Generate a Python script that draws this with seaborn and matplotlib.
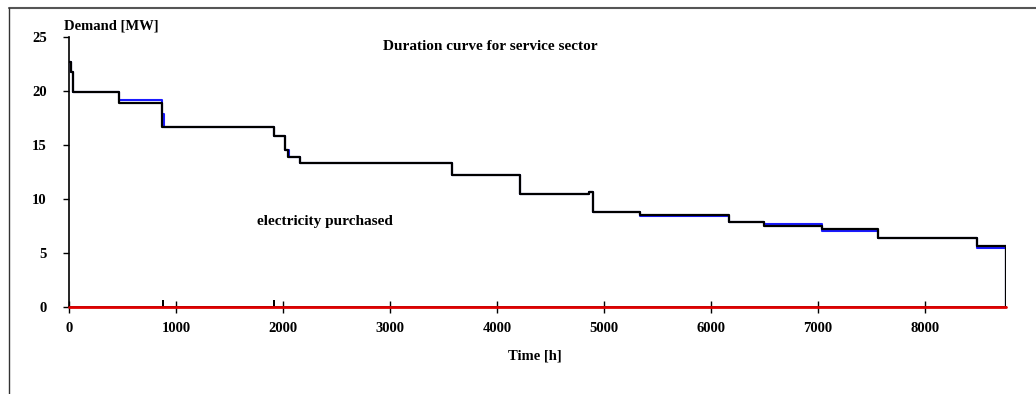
import numpy as np
import pandas as pd
import matplotlib
matplotlib.use("Agg")
import matplotlib.pyplot as plt
from matplotlib.lines import Line2D
import seaborn as sns

# ---- data (hours, MW) ----
black_t = [0, 19, 40, 467, 872, 1912, 2019, 2044, 2159, 3576, 4215, 4863, 4900,
           5336, 6175, 6499, 7044, 7561, 8486, 8760, 8760]
black_v = [22.7, 21.7, 19.9, 18.86, 16.6, 15.85, 14.5, 13.85, 13.3, 12.2, 10.4, 10.65, 8.8,
           8.52, 7.87, 7.5, 7.16, 6.36, 5.59, 5.59, 0.0]

blue_t = [0, 19, 40, 467, 872, 885, 1912, 2019, 2055, 2159, 3576, 4215, 4863, 4900,
          5336, 6175, 6499, 7044, 7561, 8486, 8760, 8760]
blue_v = [22.7, 21.7, 19.9, 19.14, 17.8, 16.6, 15.85, 14.5, 13.85, 13.3, 12.2, 10.4, 10.6, 8.8,
          8.43, 7.87, 7.63, 7.05, 6.36, 5.46, 5.46, 0.0]

spike_t = [878, 878, 878, 1916, 1916, 1916]
spike_v = [0.0, 0.55, 0.0, 0.0, 0.55, 0.0]

purchased_t = [0, 8760]
purchased_v = [0.0, 0.0]

x_ticks = [0, 1000, 2000, 3000, 4000, 5000, 6000, 7000, 8000]
y_ticks = [0, 5, 10, 15, 20, 25]

sns.set_theme(style="white")
plt.rcParams['font.family'] = ['Liberation Serif', 'DejaVu Serif']
plt.rcParams['font.weight'] = 'bold'
plt.rcParams['text.color'] = 'black'
plt.rcParams['xtick.color'] = 'black'
plt.rcParams['ytick.color'] = 'black'
plt.rcParams['xtick.labelcolor'] = 'black'
plt.rcParams['ytick.labelcolor'] = 'black'

fig = plt.figure(figsize=(10.36, 3.94), dpi=100)
ax = fig.add_axes([69 / 1036, 1 - 306.7 / 394, (1006 - 69) / 1036, (306.7 - 36.7) / 394])

blue_df = pd.DataFrame({"t": blue_t, "v": blue_v})
black_df = pd.DataFrame({"t": black_t, "v": black_v})
spike_df = pd.DataFrame({"t": spike_t, "v": spike_v})
red_df = pd.DataFrame({"t": purchased_t, "v": purchased_v})

sns.lineplot(data=blue_df, x="t", y="v", ax=ax, color="#1a1aff", lw=1.5,
             drawstyle="steps-post", estimator=None, sort=False, zorder=3)
sns.lineplot(data=black_df, x="t", y="v", ax=ax, color="black", lw=1.6,
             drawstyle="steps-post", estimator=None, sort=False, zorder=4)
sns.lineplot(data=spike_df, x="t", y="v", ax=ax, color="black", lw=1.2,
             estimator=None, sort=False, zorder=4)
sns.lineplot(data=red_df, x="t", y="v", ax=ax, color="#e00000", lw=2.0,
             estimator=None, sort=False, zorder=5, clip_on=False)

fs = 10.5
ax.set_xlim(0, 8760)
ax.set_ylim(0, 25)
ax.set_xticks(x_ticks)
ax.set_yticks(y_ticks)
ax.set_xticklabels([str(v) for v in x_ticks], fontsize=fs, fontweight='bold', color='black')
ax.set_yticklabels([str(v) for v in y_ticks], fontsize=fs, fontweight='bold', color='black')
ax.tick_params(axis='x', direction='inout', length=8, width=1, color='black', pad=7)
ax.tick_params(axis='y', direction='out', length=4, width=1, color='black', pad=12, left=True)
ax.tick_params(axis='x', bottom=True)
ax.set_xlabel("")
ax.set_ylabel("")
for s in ["top", "right"]:
    ax.spines[s].set_visible(False)
for s in ["left", "bottom"]:
    ax.spines[s].set_color("black")
    ax.spines[s].set_linewidth(1.2)
ax.grid(False)

fig.text(64 / 1036, 1 - 26 / 394, "Demand [MW]", fontsize=fs, fontweight='bold',
         ha='left', va='center', color='black')
fig.text(490 / 1036, 1 - 46 / 394, "Duration curve for service sector", fontsize=fs + 0.5,
         fontweight='bold', ha='center', va='center', color='black')
fig.text(325 / 1036, 1 - 222 / 394, "electricity purchased", fontsize=fs + 0.5,
         fontweight='bold', ha='center', va='center', color='black')
fig.text(535 / 1036, 1 - 356 / 394, "Time [h]", fontsize=fs, fontweight='bold',
         ha='center', va='center', color='black')

# outer frame (top and left edges)
fig.add_artist(Line2D([9 / 1036, 1.0], [1 - 7.5 / 394, 1 - 7.5 / 394],
                      transform=fig.transFigure, color="#555555", lw=1.5))
fig.add_artist(Line2D([8.5 / 1036, 8.5 / 1036], [0.0, 1 - 7.5 / 394],
                      transform=fig.transFigure, color="#333333", lw=1.0))

fig.savefig("out.png", dpi=100)
